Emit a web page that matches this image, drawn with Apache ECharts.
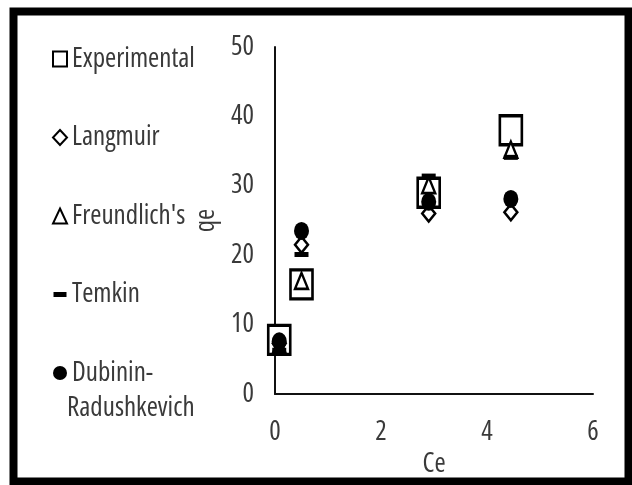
<!DOCTYPE html>
<html><head><meta charset="utf-8">
<script src="https://cdn.jsdelivr.net/npm/echarts@6/dist/echarts.min.js"></script>
<style>html,body{margin:0;padding:0;background:#fff}#c{width:632px;height:485px}</style>
</head><body><div id="c"></div>
<script>
var seriesNames = ['Experimental', 'Langmuir', "Freundlich's", 'Temkin', 'Dubinin-Radushkevich'];
var xTicks = [0, 2, 4, 6];
var yTicks = [0, 10, 20, 30, 40, 50];
var experimental = [[0.08, 7.8], [0.5, 15.8], [2.9, 29.0], [4.45, 38.0]];
var langmuir = [[0.08, 7.3], [0.5, 21.5], [2.9, 26.0], [4.45, 26.2]];
var freundlich = [[0.08, 7.0], [0.5, 16.3], [2.9, 30.1], [4.45, 35.2]];
var temkin = [[0.08, 6.3], [0.5, 20.1], [2.9, 31.4], [4.45, 34.1]];
var dubinin = [[0.08, 7.6], [0.5, 23.5], [2.9, 27.7], [4.45, 28.1]];

var FONT = '"Open Sans", "Roboto Condensed", sans-serif';
var FS = 27;
var TXT = '#3a3a3a';
function ts(extra) {
  var o = {fontFamily: FONT, fontSize: FS, fontWeight: 'condensed', color: TXT};
  for (var k in extra) o[k] = extra[k];
  return o;
}
var chart = echarts.init(document.getElementById('c'), null, {renderer: 'canvas'});
chart.setOption({
  animation: false,
  backgroundColor: '#fff',
  grid: {left: 275, right: 39, top: 47, bottom: 91, containLabel: false},
  xAxis: {
    type: 'value', min: xTicks[0], max: xTicks[xTicks.length - 1], interval: 2,
    name: 'Ce', nameLocation: 'middle', nameGap: 44,
    nameTextStyle: ts({}),
    axisLine: {show: true, onZero: false, lineStyle: {color: '#111', width: 2}},
    axisTick: {show: false}, splitLine: {show: false},
    axisLabel: ts({margin: 25})
  },
  yAxis: {
    type: 'value', min: yTicks[0], max: yTicks[yTicks.length - 1], interval: 10,
    name: 'qe', nameLocation: 'middle', nameGap: 44, nameRotate: 90,
    nameTextStyle: ts({}),
    axisLine: {show: true, onZero: false, lineStyle: {color: '#111', width: 2}},
    axisTick: {show: false}, splitLine: {show: false},
    axisLabel: ts({margin: 21})
  },
  legend: {
    orient: 'vertical', left: 47, top: 39,
    itemWidth: 14, itemHeight: 15, itemGap: 48.5,
    textStyle: ts({lineHeight: 30}),
    formatter: function (n) { return n === 'Dubinin-Radushkevich' ? 'Dubinin-' : n; },
    data: [
      {name: seriesNames[0], icon: 'rect'},
      {name: seriesNames[1], icon: 'diamond'},
      {name: seriesNames[2], icon: 'triangle'},
      {name: seriesNames[3], icon: 'path://M0,0 M0,5 L13,5 L13,10 L0,10 Z M13,15'},
      {name: seriesNames[4], icon: 'circle'}
    ]
  },
  graphic: [
    {type: 'rect', shape: {x: 13.5, y: 11.5, width: 615, height: 470}, silent: true,
     style: {fill: 'none', stroke: '#000', lineWidth: 8}, z: 100},
    {type: 'text', left: 67, top: 395, silent: true,
     style: {text: 'Radushkevich', font: 'normal condensed ' + FS + 'px ' + FONT, fill: TXT}}
  ],
  series: [
    {name: seriesNames[0], type: 'scatter', data: experimental, symbol: 'rect', symbolSize: [22, 29],
     itemStyle: {color: '#fff', borderColor: '#000', borderWidth: 3, opacity: 1}, z: 2},
    {name: seriesNames[1], type: 'scatter', data: langmuir, symbol: 'diamond', symbolSize: [13, 16],
     itemStyle: {color: '#fff', borderColor: '#000', borderWidth: 2.5, opacity: 1}, z: 3},
    {name: seriesNames[2], type: 'scatter', data: freundlich, symbol: 'triangle', symbolSize: [13, 16],
     itemStyle: {color: '#fff', borderColor: '#000', borderWidth: 2.5, opacity: 1}, z: 4},
    {name: seriesNames[3], type: 'scatter', data: temkin, symbol: 'rect', symbolSize: [14, 5],
     itemStyle: {color: '#000', borderColor: '#000', borderWidth: 0, opacity: 1}, z: 5},
    {name: seriesNames[4], type: 'scatter', data: dubinin, symbol: 'circle', symbolSize: [15, 18],
     itemStyle: {color: '#000', borderColor: '#000', borderWidth: 0, opacity: 1}, z: 6}
  ]
});
</script></body></html>
